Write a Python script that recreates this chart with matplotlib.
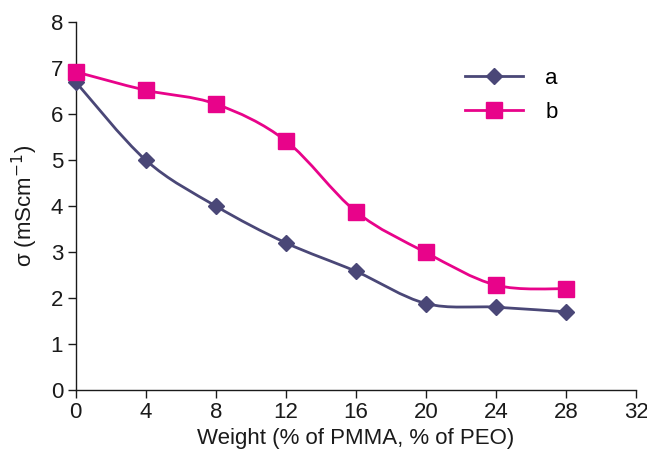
import numpy as np
import matplotlib
matplotlib.use("Agg")
import matplotlib.pyplot as plt
from matplotlib.path import Path
from matplotlib.patches import PathPatch

plt.rcParams['font.family'] = ['Liberation Sans', 'DejaVu Sans']

# data
weight = [0, 4, 8, 12, 16, 20, 24, 28]
sigma_a = [6.7, 5.0, 4.0, 3.2, 2.58, 1.88, 1.8, 1.7]
sigma_b = [6.92, 6.52, 6.22, 5.42, 3.88, 2.99, 2.28, 2.2]
x_ticks = [0, 4, 8, 12, 16, 20, 24, 28, 32]
y_ticks = [0, 1, 2, 3, 4, 5, 6, 7, 8]

col_a = '#4a4777'
col_b = '#e8038a'
txt = '#1a1a1a'


def smooth_path(x, y):
    # Excel-style smoothed line: Catmull-Rom segments as cubic Bezier
    x = np.asarray(x, float)
    y = np.asarray(y, float)
    n = len(x)
    verts = [(x[0], y[0])]
    codes = [Path.MOVETO]
    t = 1.0 / 6.0
    for i in range(n - 1):
        x0, y0 = (x[i - 1], y[i - 1]) if i > 0 else (x[i], y[i])
        x3, y3 = (x[i + 2], y[i + 2]) if i + 2 < n else (x[i + 1], y[i + 1])
        c1 = (x[i] + (x[i + 1] - x0) * t, y[i] + (y[i + 1] - y0) * t)
        c2 = (x[i + 1] - (x3 - x[i]) * t, y[i + 1] - (y3 - y[i]) * t)
        verts += [c1, c2, (x[i + 1], y[i + 1])]
        codes += [Path.CURVE4] * 3
    return Path(verts, codes)


fig = plt.figure(figsize=(6.47, 4.62), dpi=100)
ax = fig.add_axes([0.117, 0.156, 0.866, 0.796])

for ys, col, mk, ms, lab in [(sigma_a, col_a, 'D', 8.5, 'a'),
                             (sigma_b, col_b, 's', 12, 'b')]:
    ax.add_patch(PathPatch(smooth_path(weight, ys), facecolor='none',
                           edgecolor=col, lw=2, zorder=2, clip_on=False))
    ax.plot(weight, ys, linestyle='none', marker=mk, ms=ms, color=col,
            zorder=3, clip_on=False)
    # proxy for legend
    ax.plot([], [], color=col, lw=2, marker=mk, ms=ms, label=lab)

ax.set_xlim(0, 32)
ax.set_ylim(0, 8)
ax.set_xticks(x_ticks)
ax.set_yticks(y_ticks)
ax.spines['top'].set_visible(False)
ax.spines['right'].set_visible(False)
for s in ['left', 'bottom']:
    ax.spines[s].set_linewidth(1.0)
    ax.spines[s].set_color(txt)
ax.tick_params(labelsize=16, length=6, width=1, colors=txt,
               labelcolor=txt, pad=3)

ax.set_xlabel('Weight (% of PMMA, % of PEO)', fontsize=16, color=txt,
              labelpad=3)
ax.set_ylabel(r'σ (mScm$^{-1}$)', fontsize=16, color=txt, labelpad=8)

ax.legend(loc='upper left', bbox_to_anchor=(0.66, 0.93), frameon=False,
          fontsize=16, handlelength=2.6, handletextpad=1.0,
          labelspacing=0.6)

fig.savefig('out.png', dpi=100)
